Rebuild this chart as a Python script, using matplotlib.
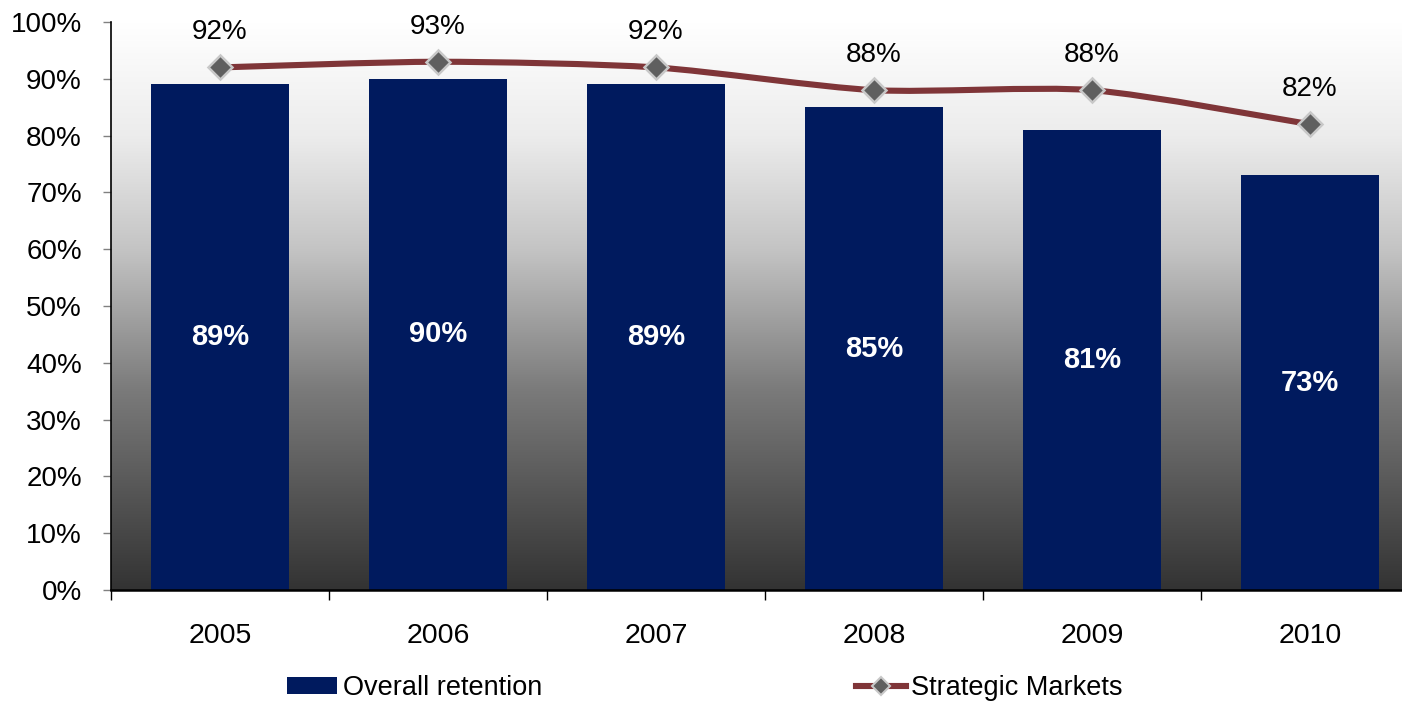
import numpy as np
import matplotlib
matplotlib.use('Agg')
import matplotlib.pyplot as plt
from matplotlib.path import Path
from matplotlib.patches import PathPatch
from matplotlib.lines import Line2D
from matplotlib.patches import Patch
from matplotlib.colors import LinearSegmentedColormap

years = ['2005', '2006', '2007', '2008', '2009', '2010']
overall = [89, 90, 89, 85, 81, 73]
strategic = [92, 93, 92, 88, 88, 82]
ytick_labels = ['0%', '10%', '20%', '30%', '40%', '50%', '60%', '70%', '80%', '90%', '100%']

BAR = '#001A5E'
LINE = '#7F3538'

plt.rcParams['font.family'] = ['Liberation Sans', 'DejaVu Sans']

fig = plt.figure(figsize=(14.02, 7.03), dpi=100)
ax = fig.add_axes([111 / 1402, 113 / 703, 1308 / 1402, 568 / 703])

x = np.arange(len(years))
ax.set_xlim(-0.5, len(years) - 0.5)
ax.set_ylim(0, 100)

# background gradient (white at top, dark grey at bottom)
cmap = LinearSegmentedColormap.from_list('bg', [(0.0, '#333333'), (0.35, '#7a7a7a'),
                                                (0.6, '#c4c4c4'), (0.8, '#ececec'),
                                                (1.0, '#ffffff')])
grad = np.linspace(0, 1, 256).reshape(-1, 1)
ax.imshow(grad, extent=[-0.5, len(years) - 0.5, 0, 100], origin='lower',
          aspect='auto', cmap=cmap, zorder=0)

ax.bar(x, overall, width=0.63, color=BAR, zorder=2)
for xi, v in zip(x, overall):
    ax.text(xi, v / 2, f'{v}%', color='white', fontsize=21, fontweight='bold',
            ha='center', va='center', zorder=5)

# smoothed line (Catmull-Rom -> cubic bezier)
pts = np.column_stack([x, strategic]).astype(float)
verts = [pts[0]]
codes = [Path.MOVETO]
for i in range(len(pts) - 1):
    p0 = pts[i - 1] if i > 0 else pts[i]
    p1, p2 = pts[i], pts[i + 1]
    p3 = pts[i + 2] if i + 2 < len(pts) else pts[i + 1]
    verts += [p1 + (p2 - p0) / 8, p2 - (p3 - p1) / 8, p2]
    codes += [Path.CURVE4] * 3
ax.add_patch(PathPatch(Path(verts, codes), fill=False, edgecolor=LINE, lw=4.4,
                       capstyle='round', zorder=3))
ax.plot(x, strategic, ls='none', marker='D', ms=12, mfc='#5f5f5f', mec='#c8c8c8',
        mew=1.8, zorder=4)
for xi, v in zip(x, strategic):
    ax.annotate(f'{v}%', (xi, v), xytext=(0, 16), textcoords='offset points',
                ha='center', va='bottom', fontsize=20, color='black')

ax.set_yticks(np.arange(0, 101, 10))
ax.set_yticklabels(ytick_labels, fontsize=20)
ax.set_xticks(x)
ax.set_xticklabels(years, fontsize=20.5)
ax.set_xticks(np.arange(-0.5, len(years), 1), minor=True)
ax.tick_params(axis='x', which='major', length=0, pad=24)
ax.tick_params(axis='x', which='minor', length=7, width=1, color='black', direction='out')
ax.tick_params(axis='y', length=6, width=1, color='#808080', pad=15)

for s in ['top', 'right']:
    ax.spines[s].set_visible(False)
ax.spines['left'].set_linewidth(1.2)
ax.spines['bottom'].set_linewidth(1.8)
ax.spines['left'].set_zorder(6)
ax.spines['bottom'].set_zorder(6)

h_bar = Patch(facecolor=BAR)
h_line = Line2D([], [], color=LINE, lw=4.4, marker='D', ms=9, mfc='#5f5f5f',
                mec='#c8c8c8', mew=1.5)
fig.legend([h_bar, h_line], ['Overall retention', 'Strategic Markets'], loc='center left',
           bbox_to_anchor=(287 / 1402, 15 / 703), ncol=2, frameon=False, fontsize=19.5,
           handlelength=1.85, handleheight=0.6, handletextpad=0.2, columnspacing=11.6,
           borderpad=0, borderaxespad=0)

fig.savefig('out.png', dpi=100)
